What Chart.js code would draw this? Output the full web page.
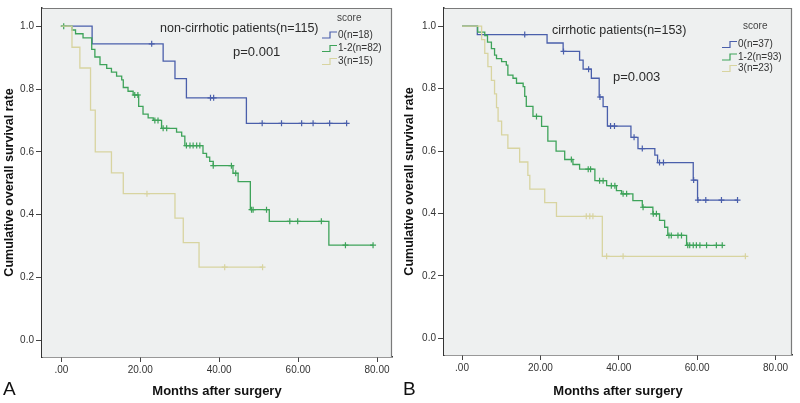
<!DOCTYPE html>
<html>
<head>
<meta charset="utf-8">
<script src="https://cdn.jsdelivr.net/npm/chart.js@4/dist/chart.umd.min.js"></script>
<style>
    html, body { margin: 0; padding: 0; background: #ffffff; }
    #wrap { position: relative; width: 800px; height: 403px; }
    canvas { position: absolute; top: 0; }
    #chartA { left: 0; }
    #chartB { left: 400px; }
</style>
</head>
<body>
<div id="wrap">
    <canvas id="chartA" width="400" height="403"></canvas>
    <canvas id="chartB" width="400" height="403"></canvas>
</div>
<script>
// Tick labels
const xTicks = [0, 20, 40, 60, 80];
const yTicks = [0, 0.2, 0.4, 0.6, 0.8, 1.0];

// Groups
const groupLabelsA = ['0(n=18)', '1-2(n=82)', '3(n=15)'];
const groupLabelsB = ['0(n=37)', '1-2(n=93)', '3(n=23)'];
const groupColors = ['#4a5fab', '#3ea35a', '#d8d4a0'];

// Panel A - non-cirrhotic, score 0
const aTime0 = [0, 7.8, 25.8, 28.8, 31.7, 46.9, 72.3];
const aSurv0 = [1, 0.944, 0.889, 0.833, 0.772, 0.691, 0.691];
const aCens0 = [22.9, 37.8, 38.6, 50.9, 55.8, 60.9, 63.8, 68.0, 72.3];

// Panel A - score 1-2
const aTime1 = [0, 2.7, 3.6, 5.5, 7.7, 8.5, 9.8, 11.5, 12.7, 14.0, 15.3, 15.7, 16.9, 18.2, 19.6, 20.7, 22.0, 23.3,
    25.4, 29.2, 30.5, 31.3, 35.9, 36.8, 37.6, 38.5, 43.5, 44.8, 47.9, 52.7, 67.8, 79.0];
const aSurv1 = [1, 0.988, 0.976, 0.963, 0.926, 0.902, 0.878, 0.866, 0.854, 0.841, 0.829, 0.805, 0.793, 0.781, 0.745, 0.72, 0.708, 0.70,
    0.675, 0.663, 0.65, 0.62, 0.595, 0.583, 0.57, 0.556, 0.532, 0.505, 0.416, 0.379, 0.303, 0.303];
const aCens1 = [0.6, 18.6, 19.4, 23.7, 24.5, 25.8, 26.7, 31.7, 32.6, 33.4, 34.3, 35.1, 38.5, 43.1, 44.2,
    48.2, 48.6, 52.0, 57.9, 59.9, 65.9, 72.0, 79.0];

// Panel A - score 3
const aTime2 = [0, 2.7, 4.7, 7.4, 8.6, 12.7, 15.7, 28.8, 30.9, 34.9, 51.0];
const aSurv2 = [1, 0.933, 0.867, 0.733, 0.6, 0.533, 0.467, 0.389, 0.311, 0.233, 0.233];
const aCens2 = [21.7, 41.4, 51.0];

// Panel B - cirrhotic, score 0
const bTime0 = [0, 3.9, 21.7, 25.8, 30.0, 30.9, 33.0, 35.0, 36.0, 37.1, 43.1, 44.9, 49.2, 49.9, 59.0, 60.1, 70.3];
const bSurv0 = [1, 0.973, 0.946, 0.919, 0.891, 0.862, 0.833, 0.773, 0.742, 0.680, 0.644, 0.608, 0.587, 0.563, 0.507, 0.443, 0.443];
const bCens0 = [16.0, 25.9, 32.3, 35.2, 37.9, 38.9, 43.9, 46.0, 50.4, 51.4, 59.1, 60.2, 62.2, 66.2, 70.3];

// Panel B - score 1-2
const bTime1 = [0, 4.0, 5.8, 6.5, 7.5, 8.3, 8.8, 10.1, 11.3, 11.7, 13.0, 13.9, 15.6, 16.0, 16.4, 18.1, 20.3, 21.9,
    24.0, 26.2, 28.3, 30.0, 33.9, 36.9, 39.4, 40.7, 43.6, 46.0, 48.7, 50.4, 51.7, 52.5, 57.3, 66.4];
const bSurv1 = [1, 0.981, 0.97, 0.949, 0.928, 0.907, 0.896, 0.886, 0.875, 0.843, 0.833, 0.817, 0.806, 0.775, 0.743, 0.711, 0.679, 0.632,
    0.6, 0.573, 0.557, 0.542, 0.505, 0.489, 0.473, 0.463, 0.441, 0.42, 0.399, 0.378, 0.356, 0.33, 0.298, 0.298];
const bCens1 = [19.0, 27.9, 32.2, 32.8, 35.1, 36.0, 38.1, 39.0, 41.1, 42.0, 46.2, 48.8, 49.6, 52.8, 53.4, 55.1, 56.0,
    57.6, 58.1, 59.0, 59.8, 60.7, 62.4, 64.9, 66.4];

// Panel B - score 3
const bTime2 = [0, 5.0, 5.8, 6.6, 7.5, 8.3, 8.8, 9.2, 10.1, 11.7, 14.7, 16.8, 17.3, 21.1, 24.1, 35.8, 72.3];
const bSurv2 = [1, 0.957, 0.913, 0.870, 0.826, 0.783, 0.739, 0.696, 0.652, 0.609, 0.565, 0.522, 0.478, 0.435, 0.391, 0.263, 0.263];
const bCens2 = [31.7, 32.6, 33.4, 36.9, 41.1, 72.3];

// Survival value at time t (step function)
function survAt(times, surv, t) {
    let v = surv[0];
    for (let i = 0; i < times.length; i++) {
        if (times[i] <= t) v = surv[i];
    }
    return v;
}

function buildDatasets(groups) {
    const sets = [];
    groups.forEach((g, i) => {
        sets.push({
            data: g.times.map((t, k) => ({ x: t, y: g.surv[k] })),
            showLine: true,
            stepped: 'before',
            borderColor: groupColors[i],
            borderWidth: 1.3,
            pointRadius: 0,
            order: 3 - i
        });
        sets.push({
            data: g.cens.map(t => ({ x: t, y: survAt(g.times, g.surv, t) })),
            showLine: false,
            pointStyle: 'cross',
            pointRadius: 3,
            borderColor: groupColors[i],
            borderWidth: 1.2,
            order: 3 - i
        });
    });
    return sets;
}

// Background box, annotations and legend
const panelPlugin = {
    id: 'panelDecor',
    beforeDatasetsDraw(chart) {
        const a = chart.chartArea;
        const ctx = chart.ctx;
        ctx.save();
        ctx.fillStyle = '#eef0f0';
        ctx.fillRect(a.left, a.top, a.right - a.left, a.bottom - a.top);
        ctx.strokeStyle = '#7a7a7a';
        ctx.lineWidth = 1.2;
        ctx.beginPath();
        ctx.moveTo(a.left, a.top + 0.5);
        ctx.lineTo(a.right - 0.5, a.top + 0.5);
        ctx.lineTo(a.right - 0.5, a.bottom);
        ctx.stroke();
        ctx.restore();
    },
    afterDraw(chart) {
        const o = chart.options.plugins.panelDecor;
        const ctx = chart.ctx;
        ctx.save();
        ctx.textBaseline = 'middle';
        ctx.textAlign = 'left';
        ctx.fillStyle = '#2a2a2a';
        ctx.font = '12.5px "Liberation Sans", Arial, sans-serif';
        ctx.fillText(o.title, o.titleX, o.titleY);
        ctx.font = '13px "Liberation Sans", Arial, sans-serif';
        ctx.fillText(o.pText, o.pX, o.pY);

        ctx.fillStyle = '#444';
        ctx.font = '10px "Liberation Sans", Arial, sans-serif';
        ctx.fillText('score', o.scoreX, o.scoreY);
        o.labels.forEach((lab, i) => {
            const y = o.legendY[i];
            const x = o.legendX;
            ctx.strokeStyle = groupColors[i];
            ctx.lineWidth = 1.2;
            ctx.beginPath();
            ctx.moveTo(x - 16, y + 3);
            ctx.lineTo(x - 8, y + 3);
            ctx.lineTo(x - 8, y - 3);
            ctx.lineTo(x - 1, y - 3);
            ctx.stroke();
            ctx.fillStyle = '#333';
            ctx.fillText(lab, x, y);
        });

        ctx.fillStyle = '#111';
        ctx.font = '19px "Liberation Sans", Arial, sans-serif';
        ctx.fillText(o.letter, 3, 390);
        ctx.restore();
    }
};

function makeChart(id, groups, cfg) {
    const ctx = document.getElementById(id).getContext('2d');
    return new Chart(ctx, {
        type: 'scatter',
        data: { datasets: buildDatasets(groups) },
        options: {
            responsive: false,
            animation: false,
            devicePixelRatio: 1,
            layout: { padding: { left: 0, top: cfg.top, right: 8, bottom: 0 } },
            plugins: {
                legend: { display: false },
                tooltip: { enabled: false },
                panelDecor: cfg.decor
            },
            scales: {
                x: {
                    type: 'linear',
                    min: cfg.xMin,
                    max: cfg.xMax,
                    afterBuildTicks: axis => { axis.ticks = xTicks.map(v => ({ value: v })); },
                    afterFit: axis => { axis.height = cfg.xHeight; },
                    ticks: {
                        padding: 2,
                        color: '#333',
                        font: { size: 10, family: '"Liberation Sans", Arial, sans-serif' },
                        callback: v => v === 0 ? '.00' : v.toFixed(2)
                    },
                    grid: { drawOnChartArea: false, color: '#444', tickLength: 5 },
                    border: { color: '#333', width: 1.5 },
                    title: {
                        display: true,
                        text: 'Months after surgery',
                        color: '#111',
                        font: { size: 13, weight: 'bold', family: '"Liberation Sans", Arial, sans-serif' },
                        padding: { top: 4, bottom: 4 }
                    }
                },
                y: {
                    type: 'linear',
                    min: -0.053,
                    max: 1.058,
                    afterBuildTicks: axis => { axis.ticks = yTicks.map(v => ({ value: v })); },
                    afterFit: axis => { axis.width = cfg.yWidth; },
                    ticks: {
                        padding: 2,
                        color: '#333',
                        font: { size: 10, family: '"Liberation Sans", Arial, sans-serif' },
                        callback: v => v.toFixed(1)
                    },
                    grid: { drawOnChartArea: false, color: '#444', tickLength: 6 },
                    border: { color: '#333', width: 1.5 },
                    title: {
                        display: true,
                        text: 'Cumulative overall survival rate',
                        color: '#111',
                        font: { size: 12.5, weight: 'bold', family: '"Liberation Sans", Arial, sans-serif' },
                        padding: { top: 2, bottom: 4 }
                    }
                }
            }
        },
        plugins: [panelPlugin]
    });
}

makeChart('chartA', [
    { times: aTime0, surv: aSurv0, cens: aCens0 },
    { times: aTime1, surv: aSurv1, cens: aCens1 },
    { times: aTime2, surv: aSurv2, cens: aCens2 }
], {
    top: 5, xHeight: 46, yWidth: 42, xMin: -4.9, xMax: 83.8,
    decor: {
        letter: 'A',
        title: 'non-cirrhotic patients(n=115)', titleX: 160, titleY: 29,
        pText: 'p=0.001', pX: 233, pY: 52,
        scoreX: 337, scoreY: 18,
        legendX: 338, legendY: [35, 48.5, 61.5],
        labels: groupLabelsA
    }
});

makeChart('chartB', [
    { times: bTime0, surv: bSurv0, cens: bCens0 },
    { times: bTime1, surv: bSurv1, cens: bCens1 },
    { times: bTime2, surv: bSurv2, cens: bCens2 }
], {
    top: 6, xHeight: 48, yWidth: 44, xMin: -4.6, xMax: 84.2,
    decor: {
        letter: 'B',
        title: 'cirrhotic patients(n=153)', titleX: 152, titleY: 31,
        pText: 'p=0.003', pX: 213, pY: 77,
        scoreX: 343, scoreY: 26,
        legendX: 338, legendY: [44.5, 57, 68.5],
        labels: groupLabelsB
    }
});
</script>
</body>
</html>
